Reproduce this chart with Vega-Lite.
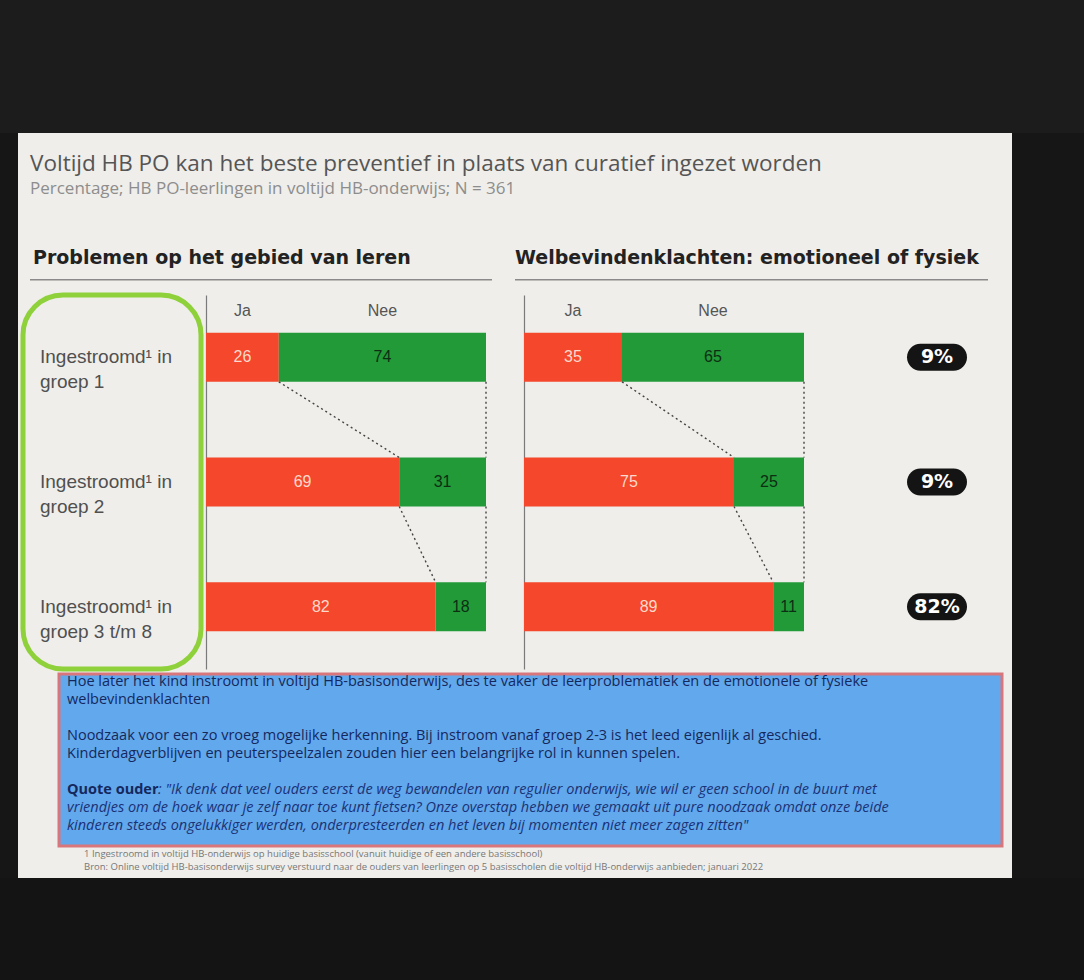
{
  "$schema": "https://vega.github.io/schema/vega-lite/v6.json",
  "background": "#efeeea",
  "padding": 0,
  "spacing": 0,
  "config": {
    "view": {"stroke": null},
    "concat": {"spacing": 0},
    "font": "Liberation Sans",
    "title": {"anchor": "start"}
  },
  "datasets": {
    "balken": [
      {"paneel": "Problemen op het gebied van leren", "groep": "Ingestroomd in groep 1", "antwoord": "Ja", "pct": 26},
      {"paneel": "Problemen op het gebied van leren", "groep": "Ingestroomd in groep 1", "antwoord": "Nee", "pct": 74},
      {"paneel": "Problemen op het gebied van leren", "groep": "Ingestroomd in groep 2", "antwoord": "Ja", "pct": 69},
      {"paneel": "Problemen op het gebied van leren", "groep": "Ingestroomd in groep 2", "antwoord": "Nee", "pct": 31},
      {"paneel": "Problemen op het gebied van leren", "groep": "Ingestroomd in groep 3 t/m 8", "antwoord": "Ja", "pct": 82},
      {"paneel": "Problemen op het gebied van leren", "groep": "Ingestroomd in groep 3 t/m 8", "antwoord": "Nee", "pct": 18},
      {"paneel": "Welbevindenklachten: emotioneel of fysiek", "groep": "Ingestroomd in groep 1", "antwoord": "Ja", "pct": 35},
      {"paneel": "Welbevindenklachten: emotioneel of fysiek", "groep": "Ingestroomd in groep 1", "antwoord": "Nee", "pct": 65},
      {"paneel": "Welbevindenklachten: emotioneel of fysiek", "groep": "Ingestroomd in groep 2", "antwoord": "Ja", "pct": 75},
      {"paneel": "Welbevindenklachten: emotioneel of fysiek", "groep": "Ingestroomd in groep 2", "antwoord": "Nee", "pct": 25},
      {"paneel": "Welbevindenklachten: emotioneel of fysiek", "groep": "Ingestroomd in groep 3 t/m 8", "antwoord": "Ja", "pct": 89},
      {"paneel": "Welbevindenklachten: emotioneel of fysiek", "groep": "Ingestroomd in groep 3 t/m 8", "antwoord": "Nee", "pct": 11}
    ],
    "verbindingen": [
      {"paneel": "Problemen op het gebied van leren", "van": "Ingestroomd in groep 1", "naar": "Ingestroomd in groep 2", "a": 26, "b": 69},
      {"paneel": "Problemen op het gebied van leren", "van": "Ingestroomd in groep 1", "naar": "Ingestroomd in groep 2", "a": 100, "b": 100},
      {"paneel": "Problemen op het gebied van leren", "van": "Ingestroomd in groep 2", "naar": "Ingestroomd in groep 3 t/m 8", "a": 69, "b": 82},
      {"paneel": "Problemen op het gebied van leren", "van": "Ingestroomd in groep 2", "naar": "Ingestroomd in groep 3 t/m 8", "a": 100, "b": 100},
      {"paneel": "Welbevindenklachten: emotioneel of fysiek", "van": "Ingestroomd in groep 1", "naar": "Ingestroomd in groep 2", "a": 35, "b": 75},
      {"paneel": "Welbevindenklachten: emotioneel of fysiek", "van": "Ingestroomd in groep 1", "naar": "Ingestroomd in groep 2", "a": 100, "b": 100},
      {"paneel": "Welbevindenklachten: emotioneel of fysiek", "van": "Ingestroomd in groep 2", "naar": "Ingestroomd in groep 3 t/m 8", "a": 75, "b": 89},
      {"paneel": "Welbevindenklachten: emotioneel of fysiek", "van": "Ingestroomd in groep 2", "naar": "Ingestroomd in groep 3 t/m 8", "a": 100, "b": 100}
    ],
    "labels": [
      {"groep": "Ingestroomd in groep 1", "label": "Ingestroomd¹ in|groep 1"},
      {"groep": "Ingestroomd in groep 2", "label": "Ingestroomd¹ in|groep 2"},
      {"groep": "Ingestroomd in groep 3 t/m 8", "label": "Ingestroomd¹ in|groep 3 t/m 8"}
    ],
    "badges": [
      {"groep": "Ingestroomd in groep 1", "aandeel": 0.09},
      {"groep": "Ingestroomd in groep 2", "aandeel": 0.09},
      {"groep": "Ingestroomd in groep 3 t/m 8", "aandeel": 0.82}
    ],
    "tekst": [
      {"regel": 1, "stijl": "normaal", "tekst": "Hoe later het kind instroomt in voltijd HB-basisonderwijs, des te vaker de leerproblematiek en de emotionele of fysieke"},
      {"regel": 2, "stijl": "normaal", "tekst": "welbevindenklachten"},
      {"regel": 4, "stijl": "normaal", "tekst": "Noodzaak voor een zo vroeg mogelijke herkenning. Bij instroom vanaf groep 2-3 is het leed eigenlijk al geschied."},
      {"regel": 5, "stijl": "normaal", "tekst": "Kinderdagverblijven en peuterspeelzalen zouden hier een belangrijke rol in kunnen spelen."},
      {"regel": 7, "stijl": "vet", "tekst": "Quote ouder"},
      {"regel": 7, "stijl": "cursief-na-vet", "tekst": " : \"Ik denk dat veel ouders eerst de weg bewandelen van regulier onderwijs, wie wil er geen school in de buurt met"},
      {"regel": 8, "stijl": "cursief", "tekst": "vriendjes om de hoek waar je zelf naar toe kunt fietsen? Onze overstap hebben we gemaakt uit pure noodzaak omdat onze beide"},
      {"regel": 9, "stijl": "cursief", "tekst": "kinderen steeds ongelukkiger werden, onderpresteerden en het leven bij momenten niet meer zagen zitten\""}
    ]
  },
  "vconcat": [
    {"width": 1084, "height": 133, "data": {"values": [{}]}, "mark": {"type": "rect", "color": "#1c1c1c"}},
    {
      "spacing": 0,
      "hconcat": [
        {"width": 18, "height": 745, "data": {"values": [{}]}, "mark": {"type": "rect", "color": "#161616"}},
        {
          "spacing": 0,
          "vconcat": [
            {"width": 994, "height": 19, "data": {"values": [{}]}, "mark": {"type": "rect", "opacity": 0}},
            {
              "width": 10, "height": 51.5,
              "title": {
                "text": "Voltijd HB PO kan het beste preventief in plaats van curatief ingezet worden",
                "subtitle": "Percentage; HB PO-leerlingen in voltijd HB-onderwijs; N = 361",
                "anchor": "start", "dx": 12, "offset": 0,
                "font": "Open Sans", "fontSize": 22.5, "fontWeight": "normal", "color": "#555555",
                "subtitleFont": "Open Sans", "subtitleFontSize": 17, "subtitleColor": "#8d8d8d", "subtitlePadding": 6
              },
              "data": {"values": [{}]}, "mark": {"type": "rect", "opacity": 0}
            },
            {
              "spacing": 0,
              "hconcat": [
                {"width": 12, "height": 1, "data": {"values": [{}]}, "mark": {"type": "rect", "opacity": 0}},
                {"width": 462, "height": 1.5,
                  "title": {"text": "Problemen op het gebied van leren", "font": "DejaVu Sans", "fontSize": 19, "fontWeight": "bold", "color": "#222222", "offset": 11, "dx": 3},
                  "data": {"values": [{}]}, "mark": {"type": "rect", "color": "#8a8a8a"}},
                {"width": 23, "height": 1, "data": {"values": [{}]}, "mark": {"type": "rect", "opacity": 0}},
                {"width": 473, "height": 1.5,
                  "title": {"text": "Welbevindenklachten: emotioneel of fysiek", "font": "DejaVu Sans", "fontSize": 19, "fontWeight": "bold", "color": "#222222", "offset": 11},
                  "data": {"values": [{}]}, "mark": {"type": "rect", "color": "#8a8a8a"}}
              ]
            },
            {"width": 1, "height": 11, "data": {"values": [{}]}, "mark": {"type": "rect", "opacity": 0}},
            {
              "spacing": 0,
              "hconcat": [
                {"width": 2, "height": 1, "data": {"values": [{}]}, "mark": {"type": "rect", "opacity": 0}},
                {
                  "width": 178, "height": 374,
                  "view": {"stroke": "#8fd13a", "strokeWidth": 5, "cornerRadius": 40},
                  "data": {"name": "labels"},
                  "mark": {"type": "text", "align": "left", "baseline": "middle", "lineBreak": "|", "lineHeight": 25, "fontSize": 19, "color": "#505050", "dx": 17},
                  "encoding": {
                    "y": {"field": "groep", "type": "nominal", "sort": null, "scale": {"domain": ["Ingestroomd in groep 1", "Ingestroomd in groep 2", "Ingestroomd in groep 3 t/m 8"], "paddingInner": 0, "paddingOuter": 0}, "axis": null},
                    "x": {"datum": 0, "type": "quantitative", "scale": {"domain": [0, 1]}, "axis": null},
                    "text": {"field": "label", "type": "nominal"}
                  }
                },
                {"width": 2, "height": 1, "data": {"values": [{}]}, "mark": {"type": "rect", "opacity": 0}},
                {
                  "width": 280, "height": 374,
                  "encoding": {
                    "y": {"field": "groep", "type": "nominal", "sort": null, "scale": {"domain": ["Ingestroomd in groep 1", "Ingestroomd in groep 2", "Ingestroomd in groep 3 t/m 8"], "paddingInner": 0, "paddingOuter": 0}, "axis": {"labels": false, "ticks": false, "title": null, "domainColor": "#7a7a7a", "domainWidth": 1.2}},
                    "x": {"field": "pct", "type": "quantitative", "stack": "zero", "scale": {"domain": [0, 100], "nice": false}, "axis": null}
                  },
                  "layer": [
                    {
                      "data": {"name": "balken"},
                      "transform": [{"filter": "datum.paneel == 'Problemen op het gebied van leren'"}],
                      "mark": {"type": "bar", "size": 49},
                      "encoding": {"color": {"field": "antwoord", "type": "nominal", "scale": {"domain": ["Ja", "Nee"], "range": ["#f4472b", "#229a38"]}, "legend": null}}
                    },
                    {
                      "data": {"name": "balken"},
                      "transform": [{"filter": "datum.paneel == 'Problemen op het gebied van leren'"}],
                      "mark": {"type": "text", "fontSize": 16, "baseline": "middle"},
                      "encoding": {
                        "x": {"field": "pct", "type": "quantitative", "stack": "zero", "bandPosition": 0.5},
                        "order": {"field": "antwoord", "sort": "ascending"},
                        "text": {"field": "pct", "type": "quantitative"},
                        "color": {"condition": {"test": "datum.antwoord == 'Ja'", "value": "#ffd9cc"}, "value": "#0d2e13"}
                      }
                    },
                    {
                      "data": {"name": "balken"},
                      "transform": [{"filter": "datum.paneel == 'Problemen op het gebied van leren' && datum.groep == 'Ingestroomd in groep 1'"}],
                      "mark": {"type": "text", "fontSize": 16, "baseline": "middle", "dy": -46, "color": "#555555"},
                      "encoding": {
                        "x": {"field": "pct", "type": "quantitative", "stack": "zero", "bandPosition": 0.5},
                        "order": {"field": "antwoord", "sort": "ascending"},
                        "text": {"field": "antwoord"}
                      }
                    },
                    {
                      "data": {"name": "verbindingen"},
                      "transform": [{"filter": "datum.paneel == 'Problemen op het gebied van leren'"}],
                      "mark": {"type": "rule", "strokeDash": [2, 3], "color": "#444444", "strokeWidth": 1.4, "yOffset": 24.5, "y2Offset": -24.5},
                      "encoding": {
                        "y": {"field": "van", "type": "nominal"},
                        "y2": {"field": "naar"},
                        "x": {"field": "a", "type": "quantitative", "stack": null},
                        "x2": {"field": "b"}
                      }
                    }
                  ]
                },
                {"width": 37, "height": 1, "data": {"values": [{}]}, "mark": {"type": "rect", "opacity": 0}},
                {
                  "width": 280, "height": 374,
                  "encoding": {
                    "y": {"field": "groep", "type": "nominal", "sort": null, "scale": {"domain": ["Ingestroomd in groep 1", "Ingestroomd in groep 2", "Ingestroomd in groep 3 t/m 8"], "paddingInner": 0, "paddingOuter": 0}, "axis": {"labels": false, "ticks": false, "title": null, "domainColor": "#7a7a7a", "domainWidth": 1.2}},
                    "x": {"field": "pct", "type": "quantitative", "stack": "zero", "scale": {"domain": [0, 100], "nice": false}, "axis": null}
                  },
                  "layer": [
                    {
                      "data": {"name": "balken"},
                      "transform": [{"filter": "datum.paneel == 'Welbevindenklachten: emotioneel of fysiek'"}],
                      "mark": {"type": "bar", "size": 49},
                      "encoding": {"color": {"field": "antwoord", "type": "nominal", "scale": {"domain": ["Ja", "Nee"], "range": ["#f4472b", "#229a38"]}, "legend": null}}
                    },
                    {
                      "data": {"name": "balken"},
                      "transform": [{"filter": "datum.paneel == 'Welbevindenklachten: emotioneel of fysiek'"}],
                      "mark": {"type": "text", "fontSize": 16, "baseline": "middle"},
                      "encoding": {
                        "x": {"field": "pct", "type": "quantitative", "stack": "zero", "bandPosition": 0.5},
                        "order": {"field": "antwoord", "sort": "ascending"},
                        "text": {"field": "pct", "type": "quantitative"},
                        "color": {"condition": {"test": "datum.antwoord == 'Ja'", "value": "#ffd9cc"}, "value": "#0d2e13"}
                      }
                    },
                    {
                      "data": {"name": "balken"},
                      "transform": [{"filter": "datum.paneel == 'Welbevindenklachten: emotioneel of fysiek' && datum.groep == 'Ingestroomd in groep 1'"}],
                      "mark": {"type": "text", "fontSize": 16, "baseline": "middle", "dy": -46, "color": "#555555"},
                      "encoding": {
                        "x": {"field": "pct", "type": "quantitative", "stack": "zero", "bandPosition": 0.5},
                        "order": {"field": "antwoord", "sort": "ascending"},
                        "text": {"field": "antwoord"}
                      }
                    },
                    {
                      "data": {"name": "verbindingen"},
                      "transform": [{"filter": "datum.paneel == 'Welbevindenklachten: emotioneel of fysiek'"}],
                      "mark": {"type": "rule", "strokeDash": [2, 3], "color": "#444444", "strokeWidth": 1.4, "yOffset": 24.5, "y2Offset": -24.5},
                      "encoding": {
                        "y": {"field": "van", "type": "nominal"},
                        "y2": {"field": "naar"},
                        "x": {"field": "a", "type": "quantitative", "stack": null},
                        "x2": {"field": "b"}
                      }
                    }
                  ]
                },
                {"width": 102, "height": 1, "data": {"values": [{}]}, "mark": {"type": "rect", "opacity": 0}},
                {
                  "width": 60, "height": 374,
                  "data": {"name": "badges"},
                  "encoding": {
                    "y": {"field": "groep", "type": "nominal", "sort": null, "scale": {"domain": ["Ingestroomd in groep 1", "Ingestroomd in groep 2", "Ingestroomd in groep 3 t/m 8"], "paddingInner": 0, "paddingOuter": 0}, "axis": null}
                  },
                  "layer": [
                    {"mark": {"type": "bar", "size": 27, "cornerRadius": 13.5, "color": "#141414"},
                     "encoding": {"x": {"datum": 1, "type": "quantitative", "scale": {"domain": [0, 1], "nice": false}, "axis": null}}},
                    {"mark": {"type": "text", "color": "#ffffff", "font": "DejaVu Sans", "fontWeight": "bold", "fontSize": 19, "baseline": "middle"},
                     "encoding": {"text": {"field": "aandeel", "type": "quantitative", "format": ".0%"}}}
                  ]
                }
              ]
            },
            {
              "spacing": 0,
              "hconcat": [
                {"width": 39, "height": 1, "data": {"values": [{}]}, "mark": {"type": "rect", "opacity": 0}},
                {
                  "width": 943, "height": 172,
                  "view": {"fill": "#62a8ec", "stroke": "#d8767b", "strokeWidth": 3},
                  "title": {
                    "text": ["1 Ingestroomd in voltijd HB-onderwijs op huidige basisschool (vanuit huidige of een andere basisschool)", "Bron: Online voltijd HB-basisonderwijs survey verstuurd naar de ouders van leerlingen op 5 basisscholen die voltijd HB-onderwijs aanbieden; januari 2022"],
                    "orient": "bottom", "anchor": "start", "offset": 3, "dx": 25,
                    "font": "Open Sans", "fontSize": 9.5, "fontWeight": "normal", "color": "#777777", "lineHeight": 12.5
                  },
                  "data": {"name": "tekst"},
                  "encoding": {
                    "x": {"datum": 0, "type": "quantitative", "scale": {"domain": [0, 1]}, "axis": null},
                    "y": {"field": "regel", "type": "quantitative", "scale": {"domain": [0.556, 10.111], "reverse": true, "nice": false, "zero": false}, "axis": null},
                    "text": {"field": "tekst"}
                  },
                  "layer": [
                    {"transform": [{"filter": "datum.stijl == 'normaal'"}],
                     "mark": {"type": "text", "align": "left", "baseline": "middle", "font": "Open Sans", "fontSize": 14.5, "color": "#15285e", "dx": 8}},
                    {"transform": [{"filter": "datum.stijl == 'vet'"}],
                     "mark": {"type": "text", "align": "left", "baseline": "middle", "font": "Open Sans", "fontSize": 14.5, "fontWeight": "bold", "color": "#15285e", "dx": 8}},
                    {"transform": [{"filter": "datum.stijl == 'cursief-na-vet'"}],
                     "mark": {"type": "text", "align": "left", "baseline": "middle", "font": "Open Sans", "fontSize": 14.5, "fontStyle": "italic", "color": "#1a3276", "dx": 99}},
                    {"transform": [{"filter": "datum.stijl == 'cursief'"}],
                     "mark": {"type": "text", "align": "left", "baseline": "middle", "font": "Open Sans", "fontSize": 14.5, "fontStyle": "italic", "color": "#1a3276", "dx": 8}}
                  ]
                }
              ]
            }
          ]
        },
        {"width": 72, "height": 745, "data": {"values": [{}]}, "mark": {"type": "rect", "color": "#161616"}}
      ]
    },
    {"width": 1084, "height": 102, "data": {"values": [{}]}, "mark": {"type": "rect", "color": "#141414"}}
  ]
}
